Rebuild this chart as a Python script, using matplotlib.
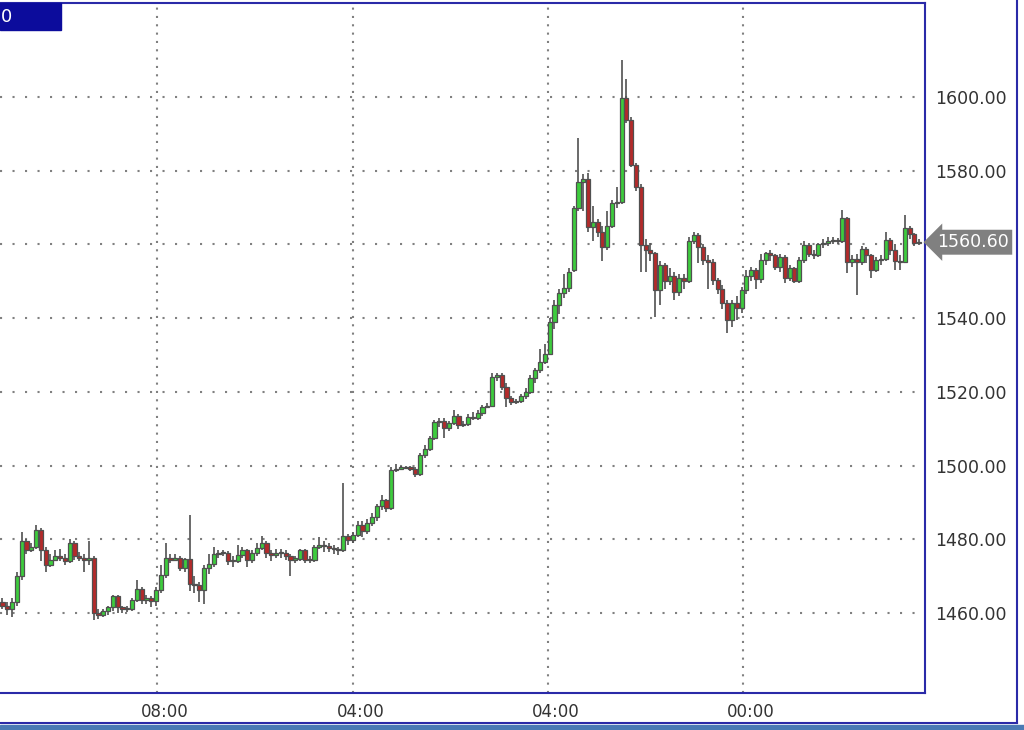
import matplotlib
matplotlib.use('Agg')

import matplotlib.pyplot as plt
from matplotlib.patches import Rectangle
from matplotlib.lines import Line2D
from matplotlib.transforms import blended_transform_factory, ScaledTranslation

# OHLC values, one per candle (left to right)
opens = [1463, 1462, 1461, 1463, 1470, 1479.5, 1477, 1478, 1482.5, 1477,
         1473, 1474.5, 1475.5, 1475, 1474, 1479, 1475.5, 1475, 1474.5, 1474.8,
         1460, 1459.5, 1460.5, 1461.5, 1464.5, 1461.5, 1461, 1461.2, 1463.5, 1466.5,
         1463.5, 1464, 1463.2, 1466.3, 1470.3, 1474.8, 1474.5, 1474.8, 1472.2, 1474.6,
         1468, 1467.6, 1466.3, 1472.2, 1473.2, 1475.9, 1476.3, 1476.2, 1474, 1474.2,
         1475.8, 1477, 1474.5, 1476.2, 1477.6, 1479, 1476.2, 1475.8, 1476.4, 1476.3,
         1475.5, 1474.5, 1474.7, 1477, 1474.5, 1474.3, 1478, 1478.5, 1478.2, 1477.6,
         1477.4, 1477, 1480.8, 1479.8, 1481.2, 1484, 1482.2, 1484.5, 1486, 1488.9,
         1490.6, 1488.5, 1498.8, 1499.2, 1499.4, 1499.5, 1499.2, 1497.8, 1502.9, 1504.5,
         1507.5, 1511.9, 1512.2, 1510.2, 1511.5, 1513.5, 1511, 1511.2, 1513.3, 1512.9,
         1514.3, 1516, 1516.2, 1524.1, 1524.6, 1521.4, 1518.3, 1517.3, 1517.5, 1519,
         1520, 1523.7, 1525.9, 1528.2, 1530.4, 1539, 1543.6, 1546.8, 1548.2, 1553,
         1569.8, 1577, 1577.8, 1564.8, 1566, 1563.5, 1559.4, 1565, 1571.2, 1571.6,
         1599.6, 1593.8, 1581.6, 1575.7, 1559.8, 1558.5, 1557.6, 1547.6, 1554.4, 1550,
         1551.5, 1547.2, 1551, 1550, 1561, 1562.6, 1559.4, 1555.8, 1555.3, 1550.4,
         1548, 1544, 1539.5, 1544, 1542.7, 1547.6, 1551.3, 1553, 1550.5, 1555.8,
         1557.6, 1557, 1554, 1556.7, 1550.8, 1553.5, 1550, 1555.8, 1559.8, 1557.5,
         1557, 1560, 1560.4, 1561, 1561.2, 1560.8, 1567.1, 1555.3, 1556, 1555.2,
         1558.8, 1557, 1553, 1555.8, 1556, 1561.2, 1558.5, 1555.5, 1555.3, 1564.4,
         1562.7, 1560.3]
highs = [1464, 1463, 1464, 1471, 1482, 1480, 1479, 1484, 1483, 1478,
         1476, 1477, 1477.5, 1476, 1480, 1479.5, 1476.5, 1476, 1479.5, 1475.5,
         1461, 1461, 1462, 1465, 1465, 1462, 1462, 1464, 1469, 1467,
         1465, 1464.5, 1467, 1473, 1479, 1476, 1476, 1475.5, 1475, 1486.6,
         1470, 1468.5, 1473, 1476, 1478, 1477, 1477, 1476.8, 1475.5, 1478.5,
         1478, 1477.5, 1477, 1479, 1481, 1479.5, 1477, 1477.5, 1477.5, 1477,
         1476, 1475.5, 1477.5, 1477.5, 1475.5, 1478.5, 1480.5, 1479.5, 1479, 1478.5,
         1478, 1495.2, 1481.5, 1482, 1485, 1485, 1485.5, 1487, 1489.5, 1492,
         1491, 1499.5, 1500.5, 1499.8, 1499.9, 1499.8, 1499.5, 1503.5, 1505.5, 1508,
         1512.5, 1513, 1513, 1512, 1515, 1514, 1512, 1514, 1514.6, 1515,
         1516.5, 1517, 1525, 1525.2, 1525, 1522.5, 1519, 1518, 1519.5, 1521,
         1524.5, 1526.5, 1531.5, 1533, 1540, 1545, 1548, 1552, 1553.5, 1570.5,
         1588.8, 1579, 1579.5, 1570.5, 1567, 1565, 1569, 1572, 1575.5, 1610,
         1605, 1594.5, 1582, 1576.5, 1561.5, 1560.5, 1558, 1555.5, 1555, 1553.5,
         1552.5, 1552, 1552, 1562, 1563.5, 1563, 1560, 1557, 1556, 1551,
         1549, 1545, 1545, 1546, 1548.5, 1553, 1554, 1553.5, 1557.5, 1558,
         1558.5, 1557.5, 1557.5, 1557, 1554.5, 1554, 1556.5, 1560.8, 1560.5, 1558.5,
         1560.5, 1561.5, 1562, 1562, 1561.8, 1569.4, 1567.5, 1557, 1557.5, 1559.5,
         1559.2, 1557.5, 1556.5, 1557, 1563.5, 1561.7, 1560, 1557, 1568, 1565,
         1563, 1561.5]
lows = [1461, 1459.5, 1459, 1462, 1469, 1476, 1476.5, 1477.5, 1474, 1471,
        1472.5, 1474, 1474, 1473, 1473.5, 1474.5, 1474, 1471, 1473, 1458,
        1458.5, 1459, 1459.5, 1460.5, 1460, 1460, 1460.2, 1460.5, 1463, 1462.5,
        1462.5, 1461.5, 1462, 1465.5, 1469.5, 1473.5, 1474, 1471.5, 1471, 1466,
        1465.5, 1463, 1462.5, 1470.5, 1472.5, 1475, 1475.5, 1473, 1472.5, 1473.5,
        1475, 1472.5, 1473.5, 1475.5, 1477, 1475, 1474, 1475, 1475, 1474.5,
        1470, 1473.5, 1474, 1473.5, 1473.5, 1473.8, 1477.5, 1476.5, 1476.5, 1476,
        1475.8, 1476.5, 1478.5, 1479, 1480.5, 1480.5, 1481.5, 1483.5, 1485, 1488,
        1487.5, 1488, 1498.2, 1498.8, 1499, 1498.5, 1497, 1497.2, 1502, 1504,
        1507, 1510.5, 1507.5, 1509.5, 1511, 1510, 1510.5, 1510.8, 1512.5, 1512.5,
        1513.5, 1515.5, 1515.8, 1523, 1520.5, 1516, 1516.5, 1516.8, 1517, 1518,
        1519.5, 1522.5, 1525, 1527.5, 1530, 1537, 1541, 1545.5, 1547, 1552.5,
        1569, 1569, 1563.5, 1561, 1562, 1555.5, 1558.5, 1564.5, 1570, 1571,
        1593, 1581, 1574.5, 1552.6, 1552.5, 1555.5, 1540.4, 1543.5, 1548, 1549,
        1545, 1546, 1548, 1549.5, 1560, 1555, 1554.5, 1548, 1549, 1546.5,
        1542.5, 1535.9, 1537.5, 1539.5, 1541.5, 1546.5, 1550, 1548, 1549.5, 1554.5,
        1555.5, 1553, 1552.5, 1549.5, 1550, 1549.5, 1549.5, 1555, 1556.5, 1556,
        1556.5, 1559, 1559.5, 1560, 1560, 1560.3, 1552.3, 1554, 1546.3, 1554.5,
        1555, 1551, 1552.5, 1554.5, 1555.5, 1557, 1553, 1553, 1555, 1561.5,
        1559.5, 1559.8]
closes = [1462, 1461, 1463, 1470, 1479.5, 1477, 1478, 1482.5, 1477, 1473,
          1474.5, 1475.5, 1475, 1474, 1479, 1475.5, 1475, 1474.5, 1474.8, 1460,
          1459.5, 1460.5, 1461.5, 1464.5, 1461.5, 1461, 1461.2, 1463.5, 1466.5, 1463.5,
          1464, 1463.2, 1466.3, 1470.3, 1474.8, 1474.5, 1474.8, 1472.2, 1474.6, 1468,
          1467.6, 1466.3, 1472.2, 1473.2, 1475.9, 1476.3, 1476.2, 1474, 1474.2, 1475.8,
          1477, 1474.5, 1476.2, 1477.6, 1479, 1476.2, 1475.8, 1476.4, 1476.3, 1475.5,
          1474.5, 1474.7, 1477, 1474.5, 1474.3, 1478, 1478.5, 1478.2, 1477.6, 1477.4,
          1477, 1480.8, 1479.8, 1481.2, 1484, 1482.2, 1484.5, 1486, 1488.9, 1490.6,
          1488.5, 1498.8, 1499.2, 1499.4, 1499.5, 1499.2, 1497.8, 1502.9, 1504.5, 1507.5,
          1511.9, 1512.2, 1510.2, 1511.5, 1513.5, 1511, 1511.2, 1513.3, 1512.9, 1514.3,
          1516, 1516.2, 1524.1, 1524.6, 1521.4, 1518.3, 1517.3, 1517.5, 1519, 1520,
          1523.7, 1525.9, 1528.2, 1530.4, 1539, 1543.6, 1546.8, 1548.2, 1552.6, 1569.8,
          1577, 1577.8, 1564.8, 1566, 1563.5, 1559.4, 1565, 1571.2, 1571.6, 1599.6,
          1593.8, 1581.6, 1575.7, 1559.8, 1558.5, 1557.6, 1547.6, 1554.4, 1550, 1551.5,
          1547.2, 1551, 1550, 1561, 1562.6, 1559.4, 1555.8, 1555.3, 1550.4, 1548,
          1544, 1539.5, 1544, 1542.7, 1547.6, 1551.3, 1553, 1550.5, 1555.8, 1557.6,
          1557, 1554, 1556.7, 1550.8, 1553.5, 1550, 1555.8, 1559.8, 1557.5, 1557,
          1560, 1560.4, 1561, 1561.2, 1560.8, 1567.1, 1555.3, 1556, 1555.2, 1558.8,
          1557, 1553, 1555.8, 1556, 1561.2, 1558.5, 1555.5, 1555.3, 1564.4, 1562.7,
          1560.3, 1560.6]

time_ticks = [32.2, 73.0, 113.7, 154.3]
time_labels = ["08:00", "04:00", "04:00", "00:00"]
price_ticks = [1460, 1480, 1500, 1520, 1540, 1560, 1580, 1600]
last_label = "1560.60"
corner_text = "0"

UP = '#3dcc3d'
DOWN = '#b42a2a'
WICK = '#505050'
FRAME = '#2a2aa8'

fig = plt.figure(figsize=(10.24, 7.3), dpi=100)
ax = fig.add_axes([0, 1 - 693 / 730, 925 / 1024, 690 / 730])

# candles
x = list(range(len(closes)))
ax.vlines(x, lows, highs, color=WICK, linewidth=1.2, zorder=2)
bottoms = [min(o, c) for o, c in zip(opens, closes)]
heights = [max(abs(c - o), 0.3) for o, c in zip(opens, closes)]
colors = [UP if c >= o else DOWN for o, c in zip(opens, closes)]
ax.bar(x, heights, bottom=bottoms, width=0.85, color=colors,
       edgecolor=WICK, linewidth=0.9, zorder=3)

ax.set_xlim(-0.52, 192.2)
ax.set_ylim(1438.3, 1625.5)

# grid
ax.set_axisbelow(True)
ax.yaxis.grid(True, color='#808080', linestyle=(0, (1, 5)), linewidth=1.5)
ax.xaxis.grid(True, color='#808080', linestyle=(0, (1, 3)), linewidth=1.5)

# axes / ticks (the last price box stands in for the 1560 label)
ax.yaxis.tick_right()
ax.set_yticks(price_ticks)
ax.set_yticklabels(["" if p == 1560 else f"{p:.2f}" for p in price_ticks])
ax.set_xticks(time_ticks)
ax.set_xticklabels(time_labels)
ax.tick_params(axis='y', length=0, pad=7, labelsize=12.5, labelcolor='#333333')
ax.tick_params(axis='x', length=0, pad=7, labelsize=12, labelcolor='#333333')
offset = ScaledTranslation(8 / 100, 0, fig.dpi_scale_trans)
for lbl in ax.get_xticklabels():
    lbl.set_transform(lbl.get_transform() + offset)

ax.spines['left'].set_visible(False)
for side in ['top', 'right', 'bottom']:
    ax.spines[side].set_color(FRAME)
    ax.spines[side].set_linewidth(1.5)

# last price marker
trans = blended_transform_factory(ax.transAxes, ax.transData)
ax.text(1.0 + 12 / 925, closes[-1], last_label, transform=trans, ha='left', va='center',
        color='white', fontsize=12.5, clip_on=False, zorder=10,
        bbox=dict(boxstyle='larrow,pad=0.2', fc='#808080', ec='none'))

# outer frame and decorations
fig.add_artist(Line2D([1017 / 1024, 1017 / 1024], [1 - 723 / 730, 1],
                      transform=fig.transFigure, color=FRAME, linewidth=1.5))
fig.add_artist(Line2D([0, 1017 / 1024], [1 - 723 / 730, 1 - 723 / 730],
                      transform=fig.transFigure, color=FRAME, linewidth=1.5))
fig.add_artist(Rectangle((0, 0), 1, 5 / 730, transform=fig.transFigure,
                         color='#4a7ab4', zorder=5))
fig.add_artist(Rectangle((0, 1 - 30 / 730), 61 / 1024, 27 / 730,
                         transform=fig.transFigure, color='#0c0c9c', zorder=5))
fig.text(1 / 1024, 1 - 17 / 730, corner_text, color='white', fontsize=13,
         va='center', ha='left', zorder=6)

fig.savefig("out.png", dpi=100)
plt.close()
